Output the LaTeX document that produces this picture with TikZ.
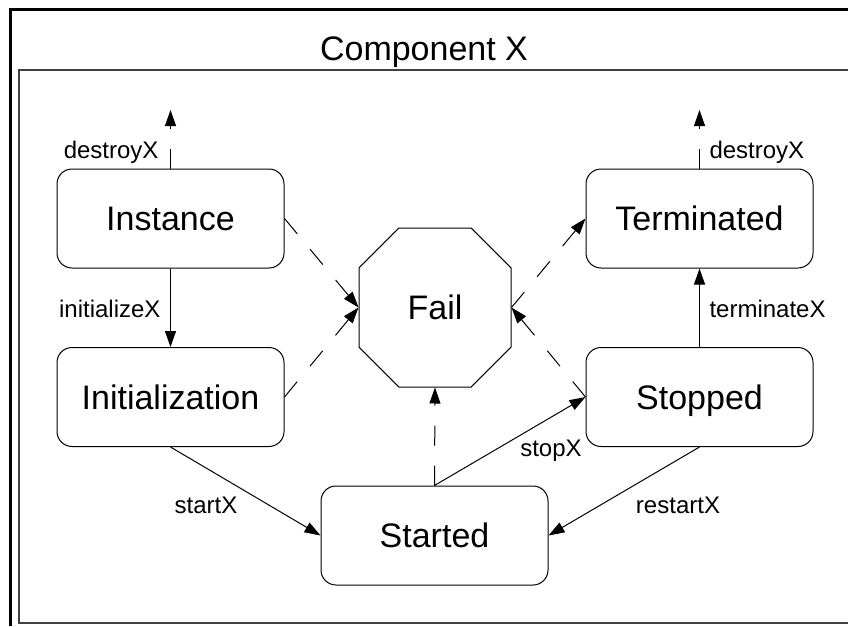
\documentclass[tikz,border=0pt]{standalone}
\usepackage{fontspec}
\setmainfont{Liberation Sans}
\usetikzlibrary{arrows.meta,shapes.misc}

\begin{document}
\begin{tikzpicture}[
  x=1pt, y=-1pt,
  >={Triangle[length=16pt,width=11pt]},
  line width=1pt,
  phase/.style={draw,rounded corners=15pt,minimum width=227pt,minimum height=99pt,inner sep=0,
    text height=24.3pt,text depth=0pt,font=\fontsize{34}{40}\selectfont},
  fail/.style={draw,chamfered rectangle,chamfered rectangle xsep=35pt,chamfered rectangle ysep=36pt,
    minimum width=152pt,minimum height=159pt,inner sep=0,font=\fontsize{34}{40}\selectfont},
  lbl/.style={inner sep=0,font=\fontsize{24}{28}\selectfont},
  dashedge/.style={->,dash pattern=on 20pt off 20pt}
  ]
  \useasboundingbox (0,0) rectangle (848,626);

  % frame
  \draw[line width=3pt] (10,626) -- (10,10) -- (848,10);
  \draw[line width=1.5pt,black!75] (848,70) -- (19,70) -- (19,623) -- (848,623);
  \node [inner sep=0,font=\fontsize{34}{40}\selectfont,anchor=base] (title) at (424,60) {Component X};

  % states
  \node [phase] (inst) at (170.5,218.5) {Instance};
  \node [phase] (init) at (170.5,397) {Initialization};
  \node [phase] (term) at (699.5,218.5) {Terminated};
  \node [phase] (stop) at (699.5,397) {Stopped};
  \node [phase] (start) at (434.5,535.5) {Started};
  \node [fail] (fail) at (435,307.5) {Fail};

  \coordinate (gone1) at (170.5,110);
  \coordinate (gone2) at (699.5,110);

  % transitions
  \draw[->] (inst) -- (init);
  \draw[->] (init.south) -- (start.west);
  \draw[->] (stop.south) -- (start.east);
  \draw[->] (start.north) -- (stop.west);
  \draw[->] (stop) -- (term);
  \draw[dashedge] (inst.north) -- (gone1);
  \draw[dashedge] (term.north) -- (gone2);

  % failures
  \draw[dashedge] (inst.east) -- (fail.west);
  \draw[dashedge] (init.east) -- (fail.west);
  \draw[dashedge] (start.north) -- (fail.south);
  \draw[dashedge] (fail.east) -- (term.west);
  \draw[dashedge] (stop.west) -- (fail.east);

  % labels
  \node [lbl,anchor=base east] (destroyl) at (159,158) {destroyX};
  \node [lbl,anchor=base west] (destroyr) at (709,158) {destroyX};
  \node [lbl,anchor=base east] (initx) at (161,317) {initializeX};
  \node [lbl,anchor=base west] (termx) at (709,317) {terminateX};
  \node [lbl,anchor=base] (startx) at (206,513) {startX};
  \node [lbl,anchor=base] (restartx) at (678,513) {restartX};
  \node [lbl,anchor=base] (stopx) at (551,456) {stopX};
\end{tikzpicture}
\end{document}
